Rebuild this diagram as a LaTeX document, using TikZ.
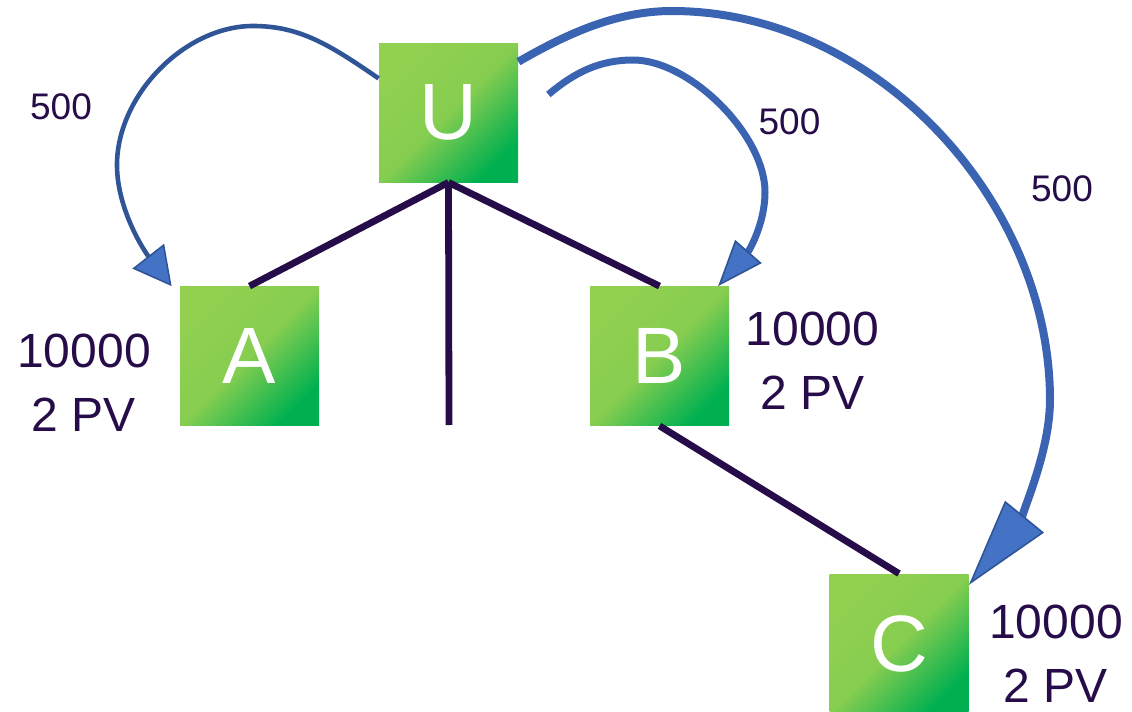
\documentclass[tikz,border=0pt]{standalone}
\usepackage{xcolor}
\usepackage{fontspec}
\setmainfont{Liberation Sans}
\usepackage{tikz}
\usetikzlibrary{arrows.meta}

\definecolor{ink}{HTML}{260C48}
\definecolor{leafgreen}{HTML}{92D050}
\definecolor{deepgreen}{HTML}{00B050}
\definecolor{arrowline}{HTML}{2F5597}
\definecolor{arrowfill}{HTML}{4472C4}
\definecolor{arrowblue}{HTML}{3A64B2}

\begin{document}
\begin{tikzpicture}[x=0.5pt,y=-0.5pt,node distance=205pt]
\tikzstyle{vertex}=[rectangle,minimum size=69.5pt,inner sep=0pt,top color=leafgreen,bottom color=deepgreen,middle color=leafgreen!92!deepgreen,shading angle=45,text=white,font=\fontsize{40}{48}\selectfont]
\tikzstyle{info}=[align=center,inner sep=0pt,text=ink,font=\fontsize{24}{32}\selectfont]
\tikzstyle{amount}=[inner sep=0pt,text=ink,font=\fontsize{18.5}{22}\selectfont]
\tikzstyle{tree}=[draw=ink,line width=3.4pt]
\tikzstyle{flow}=[draw=arrowblue]

\useasboundingbox (0,0) rectangle (1132,712);

\node[vertex] (U) at (448.5,112.5) {U};
\node[vertex] (A) at (249.5,356) {A};
\node[vertex] (B) [right of=A] {B};
\node[vertex] (C) at (899,643.5) {C};
\coordinate (tail) at (449,425);
\coordinate (u2) at ([shift={(15pt,9pt)}]U.east);

\node[info] (infoA) at (84,382.5) {10000\\2 PV};
\node[info] (infoB) at (812.5,360.5) {10000\\2 PV};
\node[info] (infoC) at (1056,654) {10000\\2 PV};

\node[amount] (costA) at (61,106.5) {500};
\node[amount] (costB) at (789.5,121.5) {500};
\node[amount] (costC) at (1062,189) {500};

\path[tree]
(U.south) edge (A.north)
(U.south) edge (tail)
(U.south) edge (B.north)
(B.south) edge (C.north);

% payments from U
\draw[flow,draw=arrowline,line width=2.3pt,-{Triangle[length=19pt,width=20pt,line width=0.8pt,color=arrowline,fill=arrowfill]}]
(U.154) .. controls (330,45) and (300,26) .. (253,26)
.. controls (185,26) and (117,95) .. (117,165)
.. controls (117,210) and (145,252) .. ([xshift=-4pt]A.north west);
\draw[flow,line width=3.5pt,-{Triangle[length=23pt,width=17.5pt,line width=0.8pt,color=arrowline,fill=arrowfill]}]
(u2) .. controls (575,72) and (600,60) .. (633,60)
.. controls (690,60) and (765,135) .. (765,192)
.. controls (765,225) and (748,252) .. (B.50);
\draw[flow,line width=4pt,-{Triangle[length=44pt,width=25pt,line width=0.8pt,color=arrowline,fill=arrowfill]}]
(U.36) .. controls (565,35) and (615,11) .. (672,11)
.. controls (875,11) and (1050,200) .. (1050,400)
.. controls (1050,460) and (1012,532) .. (C.40);

\end{tikzpicture}
\end{document}
